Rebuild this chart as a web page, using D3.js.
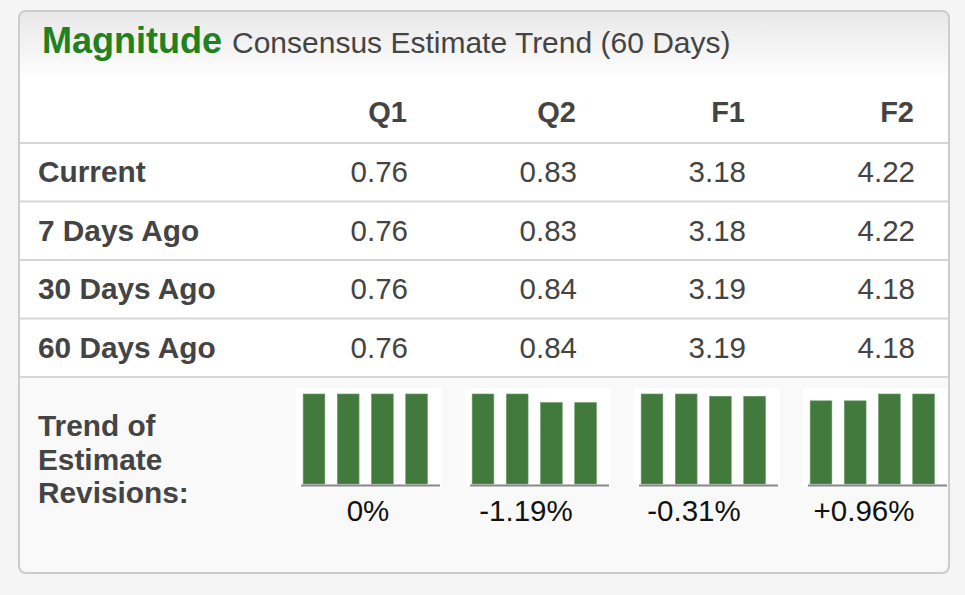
<!DOCTYPE html>
<html>
<head>
<meta charset="utf-8">
<script src="https://cdn.jsdelivr.net/npm/d3@7"></script>
<style>
  html, body { margin: 0; padding: 0; background: #f5f5f5; }
  svg { display: block; font-family: "Liberation Sans", Arial, sans-serif; }
</style>
</head>
<body>
<div id="chart"></div>
<script>
// data
var periods = ["Q1", "Q2", "F1", "F2"];
var rowLabels = ["Current", "7 Days Ago", "30 Days Ago", "60 Days Ago"];
var current    = [0.76, 0.83, 3.18, 4.22];
var daysAgo7   = [0.76, 0.83, 3.18, 4.22];
var daysAgo30  = [0.76, 0.84, 3.19, 4.18];
var daysAgo60  = [0.76, 0.84, 3.19, 4.18];
var trendLabels = ["0%", "-1.19%", "-0.31%", "+0.96%"];

var rows = [current, daysAgo7, daysAgo30, daysAgo60];
// mini bars run oldest -> newest
var trendOrder = ["60", "30", "7", "cur"];

var W = 965, H = 595;
var panel = {x: 19, y: 11, w: 930, h: 562, r: 7};

var svg = d3.select("#chart").append("svg")
    .attr("width", W)
    .attr("height", H);

var defs = svg.append("defs");
var grad = defs.append("linearGradient")
    .attr("id", "hdr").attr("x1", 0).attr("y1", 0).attr("x2", 0).attr("y2", 1);
grad.append("stop").attr("offset", "0%").attr("stop-color", "#e8e8e8");
grad.append("stop").attr("offset", "100%").attr("stop-color", "#ffffff");

defs.append("clipPath").attr("id", "pclip")
  .append("rect")
    .attr("x", panel.x).attr("y", panel.y)
    .attr("width", panel.w).attr("height", panel.h)
    .attr("rx", panel.r);

var g = svg.append("g").attr("clip-path", "url(#pclip)");

// panel backgrounds
g.append("rect")
    .attr("x", panel.x).attr("y", panel.y)
    .attr("width", panel.w).attr("height", panel.h)
    .style("fill", "#f9f9f9");
g.append("rect")
    .attr("x", panel.x).attr("y", panel.y)
    .attr("width", panel.w).attr("height", 366)
    .style("fill", "#ffffff");
g.append("rect")
    .attr("x", panel.x).attr("y", panel.y)
    .attr("width", panel.w).attr("height", 70)
    .style("fill", "url(#hdr)");

// scales for the table
var x = d3.scaleBand().domain(periods).range([238, 914]);
var y = d3.scaleBand().domain(rowLabels).range([143, 377]);

// row lines
var lineYs = [143].concat(rowLabels.map(function (d) { return y(d) + y.bandwidth(); }));
g.selectAll("line.sep")
    .data(lineYs)
    .enter()
    .append("line")
    .attr("class", "sep")
    .attr("x1", panel.x).attr("x2", panel.x + panel.w)
    .attr("y1", function (d) { return d; })
    .attr("y2", function (d) { return d; })
    .style("stroke", "#d6d6d6")
    .style("stroke-width", 2);

// title
svg.append("text")
    .attr("x", 42).attr("y", 53)
    .style("font-weight", "bold")
    .style("font-size", "36px")
    .style("fill", "#22801e")
    .text("Magnitude");
svg.append("text")
    .attr("x", 232).attr("y", 53)
    .style("font-size", "30px")
    .style("fill", "#444")
    .text("Consensus Estimate Trend (60 Days)");

// column headers
svg.selectAll("text.colhead")
    .data(periods)
    .enter()
    .append("text")
    .attr("class", "colhead")
    .attr("x", function (d) { return x(d) + x.bandwidth(); })
    .attr("y", 122)
    .attr("text-anchor", "end")
    .style("font-weight", "bold")
    .style("font-size", "29px")
    .style("fill", "#444")
    .text(function (d) { return d; });

// row labels
svg.selectAll("text.rowhead")
    .data(rowLabels)
    .enter()
    .append("text")
    .attr("class", "rowhead")
    .attr("x", 38)
    .attr("y", function (d) { return y(d) + 39; })
    .style("font-weight", "bold")
    .style("font-size", "29.8px")
    .style("fill", "#444")
    .text(function (d) { return d; });

// values
rows.forEach(function (vals, ri) {
    svg.selectAll("text.val" + ri)
        .data(vals)
        .enter()
        .append("text")
        .attr("class", "val" + ri)
        .attr("x", function (d, i) { return x(periods[i]) + x.bandwidth() + 1; })
        .attr("y", y(rowLabels[ri]) + 39)
        .attr("text-anchor", "end")
        .style("font-size", "29.5px")
        .style("fill", "#444")
        .text(function (d) { return d.toFixed(2); });
});

// trend label
var tl = svg.append("text")
    .attr("x", 38)
    .style("font-weight", "bold")
    .style("font-size", "29.8px")
    .style("fill", "#444");
["Trend of", "Estimate", "Revisions:"].forEach(function (s, i) {
    tl.append("tspan").attr("x", 38).attr("y", 436 + i * 33.5).text(s);
});

// mini trend charts
var labelDx = [130, 119, 118, 119];
periods.forEach(function (p, ci) {
    var x0 = x(p) + 58;
    var vals = [daysAgo60[ci], daysAgo30[ci], daysAgo7[ci], current[ci]];
    var top = d3.max(vals);

    var bx = d3.scaleBand().domain(trendOrder)
        .range([x0 + 4.5, x0 + 143.5])
        .paddingInner(0.365)
        .paddingOuter(0.215)
        .align(0.18);
    var by = d3.scaleLinear().domain([top * 0.875, top]).range([484, 394]);

    var cg = svg.append("g");
    cg.append("rect")
        .attr("x", x0).attr("y", 388)
        .attr("width", 146).attr("height", 98)
        .style("fill", "#ffffff");

    cg.selectAll("rect.bar")
        .data(vals)
        .enter()
        .append("rect")
        .attr("class", "bar")
        .attr("x", function (d, i) { return bx(trendOrder[i]); })
        .attr("y", function (d) { return by(d); })
        .attr("width", bx.bandwidth())
        .attr("height", function (d) { return 484 - by(d); })
        .style("fill", "#427a3e")
        .style("stroke", "#6c9868")
        .style("stroke-width", 0.6);

    var ax = cg.append("g")
        .attr("transform", "translate(0,485)")
        .call(d3.axisBottom(bx).tickSize(0).tickSizeOuter(0).tickFormat(""));
    ax.select(".domain").style("stroke", "#888").style("stroke-width", 2);

    cg.append("text")
        .attr("x", x(p) + labelDx[ci])
        .attr("y", 521)
        .attr("text-anchor", "middle")
        .style("font-size", "29.5px")
        .style("fill", "#111")
        .text(trendLabels[ci]);
});

// panel border
svg.append("rect")
    .attr("x", panel.x).attr("y", panel.y)
    .attr("width", panel.w).attr("height", panel.h)
    .attr("rx", panel.r)
    .style("fill", "none")
    .style("stroke", "#cccccc")
    .style("stroke-width", 2);
</script>
</body>
</html>
